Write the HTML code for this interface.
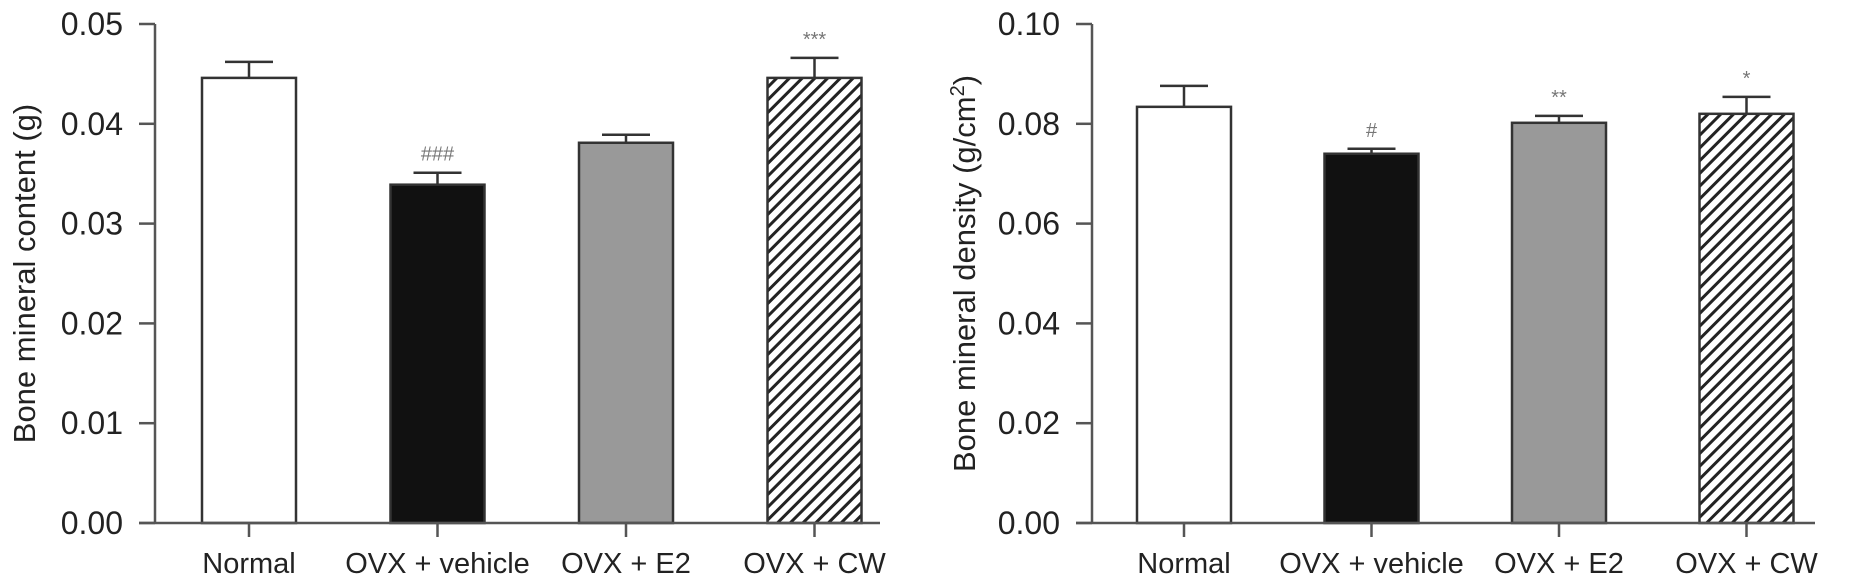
<!DOCTYPE html>
<html><head><meta charset="utf-8"><style>
html,body{margin:0;padding:0;background:#fff;}
svg{display:block;font-family:"Liberation Sans",Arial,sans-serif;}
</style></head><body>
<svg id="chart" width="1855" height="587" viewBox="0 0 1855 587" xmlns="http://www.w3.org/2000/svg">
<defs>
<pattern id="hatch" patternUnits="userSpaceOnUse" width="9" height="9" patternTransform="rotate(45)">
<rect width="9" height="9" fill="#fff"/>
<rect x="0" y="0" width="3" height="9" fill="#222"/>
</pattern>
</defs>
<g id="g"></g>
</svg>
<script>
const categories = ["Normal", "OVX + vehicle", "OVX + E2", "OVX + CW"];
const bmcValues = [0.0446, 0.0339, 0.0381, 0.0446];
const bmcErrors = [0.0016, 0.0012, 0.0008, 0.0020];
const bmcMarks = ["", "###", "", "***"];
const bmcTicks = ["0.00","0.01","0.02","0.03","0.04","0.05"];
const bmdValues = [0.0834, 0.0740, 0.0802, 0.0820];
const bmdErrors = [0.0042, 0.0010, 0.0014, 0.0034];
const bmdMarks = ["", "#", "**", "*"];
const bmdTicks = ["0.00","0.02","0.04","0.06","0.08","0.10"];
const fills = ["#ffffff", "#111111", "#999999", "url(#hatch)"];

const NS = "http://www.w3.org/2000/svg";
const root = document.getElementById("g");
function mk(tag, attrs, parent){const e=document.createElementNS(NS,tag);for(const k in attrs)e.setAttribute(k,attrs[k]);(parent||root).appendChild(e);return e;}

function drawPanel(cfg){
  const p = mk("g",{});
  
  
  const y0=523, y1=24, axX=cfg.axisX;
  const yS = v => y0 - (v/cfg.max)*(y0-y1);
  const xS = i => cfg.firstCenter + i*cfg.step;
  const stroke="#555";
  const ya = mk("line",{x1:axX,y1:y1,x2:axX,y2:y0,stroke:stroke,"stroke-width":2.5},p);
  
  
  cfg.ticks.forEach((t,i)=>{
    const v=parseFloat(t), y=yS(v);
    const tl = mk("line",{x1:axX-16,y1:y,x2:axX,y2:y,stroke:stroke,"stroke-width":2.5},p);
    
    
    const tx = mk("text",{x:axX-32,y:y+11,"text-anchor":"end","font-size":32,fill:"#222"},p);
    tx.textContent=t;
    
    
  });
  categories.forEach((c,i)=>{
    const cx=xS(i), w=94, top=yS(cfg.values[i]), et=yS(cfg.values[i]+cfg.errors[i]);
    const el = mk("line",{x1:cx,y1:et,x2:cx,y2:top,stroke:"#333","stroke-width":2.5},p);
    
    
    const cap = mk("line",{x1:cx-24,y1:et,x2:cx+24,y2:et,stroke:"#333","stroke-width":2.5},p);
    
    
    const r = mk("rect",{x:cx-w/2,y:top,width:w,height:y0-top,fill:fills[i],stroke:"#333","stroke-width":2.5},p);
    
    
    if(cfg.marks[i]){
      const m = mk("text",{x:cx,y:et-12,"text-anchor":"middle","font-size":20,fill:"#777"},p);
      m.textContent=cfg.marks[i];
      
      
    }
    const xt = mk("line",{x1:cx,y1:y0,x2:cx,y2:y0+14,stroke:stroke,"stroke-width":2.5},p);
    
    
    const lb = mk("text",{x:cx,y:573,"text-anchor":"middle","font-size":29,fill:"#222"},p);
    lb.textContent=c;
    
    
  });
  const xa = mk("line",{x1:axX-16,y1:y0,x2:cfg.axisEnd,y2:y0,stroke:stroke,"stroke-width":2.5},p);
  
  
  const tt = mk("text",{x:0,y:0,"text-anchor":"middle","font-size":31,fill:"#222",transform:`translate(${cfg.titleX},${(y0+y1)/2}) rotate(-90)`},p);
  tt.innerHTML=cfg.title;
  
  
}
drawPanel({name:"bmc-chart",axisX:155,firstCenter:249,step:188.5,axisEnd:880,max:0.05,values:bmcValues,errors:bmcErrors,marks:bmcMarks,ticks:bmcTicks,titleX:35,title:"Bone mineral content (g)"});
drawPanel({name:"bmd-chart",axisX:1092,firstCenter:1184,step:187.5,axisEnd:1815,max:0.10,values:bmdValues,errors:bmdErrors,marks:bmdMarks,ticks:bmdTicks,titleX:975,title:'Bone mineral density (g/cm<tspan dy="-11" font-size="20">2</tspan><tspan dy="11">)</tspan>'});
</script>
</body></html>
